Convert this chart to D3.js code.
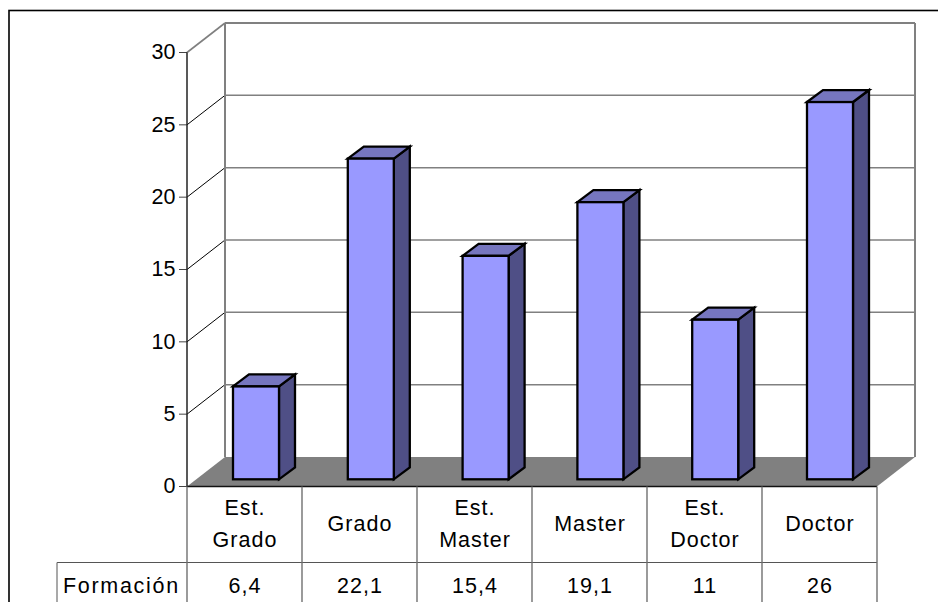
<!DOCTYPE html>
<html><head><meta charset="utf-8"><script src="https://cdn.jsdelivr.net/npm/d3@7"></script>
<style>html,body{margin:0;background:#fff}svg{display:block}text{font-family:"Liberation Sans",Arial,sans-serif;font-size:21.5px;fill:#000}.t{letter-spacing:1px}.f{letter-spacing:1.7px}</style></head>
<body><script>
const categories=[["Est.","Grado"],["Grado"],["Est.","Master"],["Master"],["Est.","Doctor"],["Doctor"]];
const values=[6.4,22.1,15.4,19.1,11,26];
const labels=["6,4","22,1","15,4","19,1","11","26"];
const seriesName="Formación";
const ticks=[0,5,10,15,20,25,30];
const W=938,H=602,dx=38,dy=-29.5,bdx=16,bdy=-12;
const svg=d3.select("body").append("svg").attr("width",W).attr("height",H);
const y=d3.scaleLinear().domain([0,30]).range([486.5,52.5]);
const yBar=d3.scaleLinear().domain([0,30]).range([479.3,44]);
const x=d3.scaleBand().domain(d3.range(6)).range([187,877]);
const xBar=d3.scalePoint().domain(d3.range(6)).range([233,807]);
const barW=46;
const G="#808080";
svg.append("rect").attr("x",9).attr("y",10.5).attr("width",W+20).attr("height",H+20).attr("fill","#fff").attr("stroke","#000").attr("stroke-width",1.6);
const line=(a,b,c,d,col,w)=>svg.append("line").attr("x1",a).attr("y1",b).attr("x2",c).attr("y2",d).attr("stroke",col).attr("stroke-width",w);
svg.append("polygon").attr("points",[[187,y(0)],[187+dx,y(0)+dy],[877+dx,y(0)+dy],[877,y(0)]].join(" ")).attr("fill",G);
ticks.slice(1).forEach(t=>{
 line(187,y(t),187+dx,y(t)+dy,t===30?G:"#000",t===30?1.6:1);
 line(187+dx,y(t)+dy,877+dx,y(t)+dy,G,t===30?2:1.5);
 line(179,y(t),187,y(t),"#444",1);
});
line(179,y(0),187,y(0),"#444",1);
line(187+dx,y(30)+dy,187+dx,y(0)+dy,G,2);
line(877+dx,y(30)+dy,877+dx,y(0)+dy,G,2);
line(187,y(30),187,y(0),"#222",1.5);
const bars=svg.append("g").attr("stroke","#000").attr("stroke-width",2.3).attr("stroke-linejoin","miter");
values.forEach((v,i)=>{
 const left=xBar(i), r=left+barW, top=yBar(v), base=yBar(0);
 bars.append("polygon").attr("points",[[r,top],[r+bdx,top+bdy],[r+bdx,base+bdy],[r,base]].join(" ")).attr("fill","#4f4f86");
 bars.append("polygon").attr("points",[[left,top],[left+bdx,top+bdy],[r+bdx,top+bdy],[r,top]].join(" ")).attr("fill","#7676bf");
 bars.append("rect").attr("x",left).attr("y",top).attr("width",barW).attr("height",base-top).attr("fill","#9999ff");
});
svg.append("g").selectAll("text").data(ticks).join("text").attr("x",175.5).attr("y",t=>y(t)+6.8).attr("text-anchor","end").text(d=>d);
const tb=y(0),row=562.5;
line(187,tb,877,tb,"#111",1.6);
line(57,row,877,row,"#555",1);
d3.range(7).forEach(i=>{const xx=187+i*115;line(xx,tb,xx,H,"#707070",1.4)});
line(57,row,57,H,"#707070",1.2);
categories.forEach((c,i)=>{const cx=x(i)+x.bandwidth()/2+.5;
 const start=c.length===2?515:531;
 c.forEach((s,j)=>svg.append("text").attr("class","t").attr("x",cx).attr("y",start+j*31.7).attr("text-anchor","middle").text(s));
 svg.append("text").attr("class","t").attr("x",cx).attr("y",593).attr("text-anchor","middle").text(labels[i]);
});
svg.append("text").attr("class","f").attr("x",63).attr("y",593).text(seriesName);
</script></body></html>
